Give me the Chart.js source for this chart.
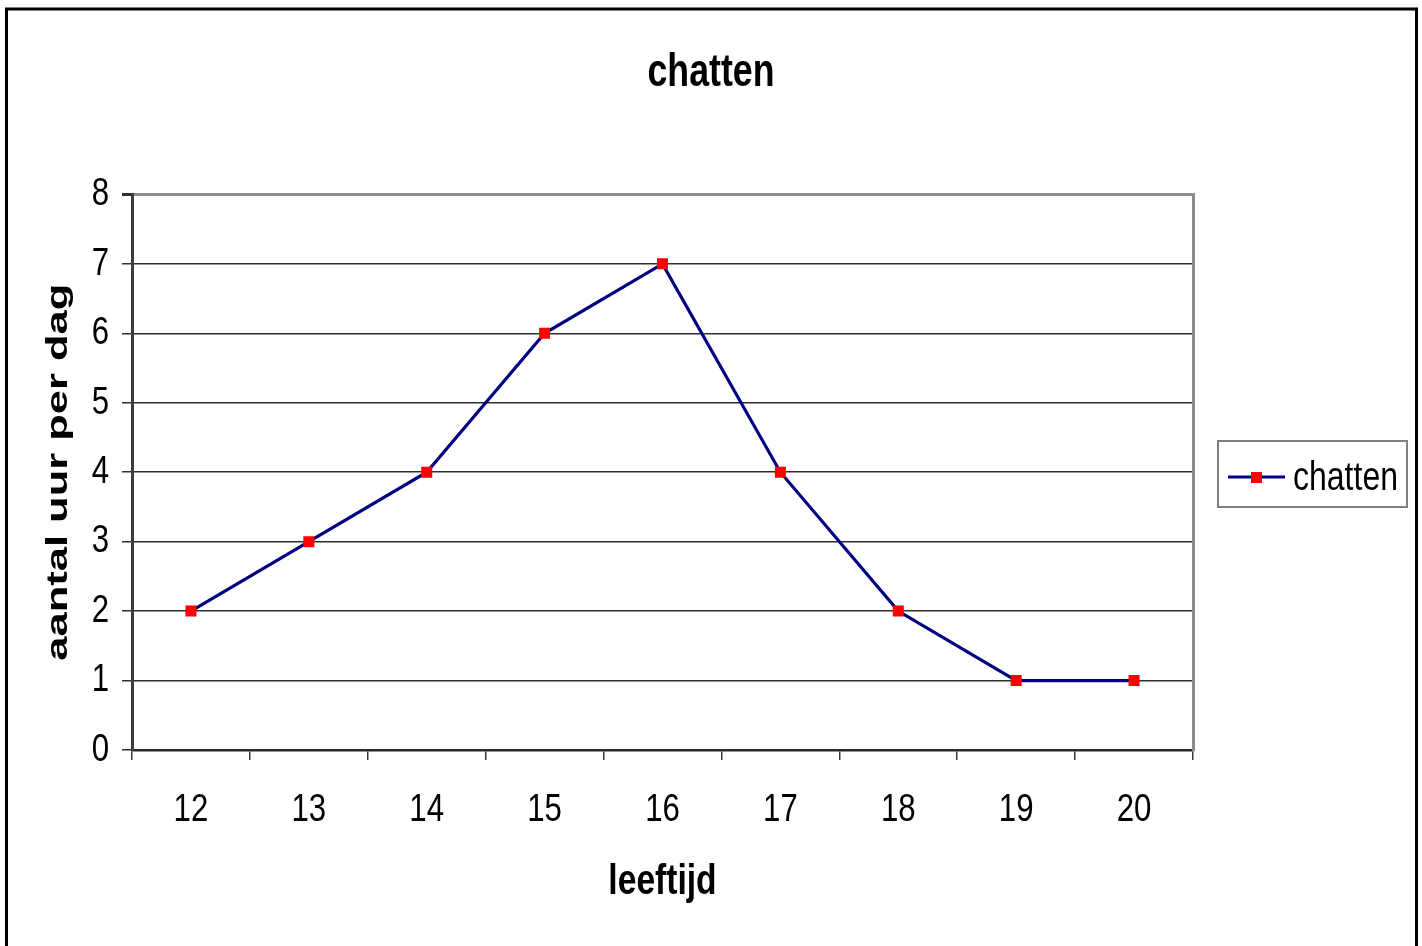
<!DOCTYPE html>
<html>
<head>
<meta charset="utf-8">
<script src="https://cdn.jsdelivr.net/npm/chart.js@4/dist/chart.umd.min.js"></script>
<style>
  html, body { margin: 0; padding: 0; background: #fff; }
  #wrap { width: 1422px; height: 946px; }
</style>
</head>
<body>
<div id="wrap"><canvas id="chart" width="1422" height="946"></canvas></div>
<script>
// ─── DATA ────────────────────────────────────────────────────────────────────
const leeftijden = ['12', '13', '14', '15', '16', '17', '18', '19', '20'];
const urenPerDag = [2, 3, 4, 6, 7, 4, 2, 1, 1];
const yTicks = [0, 1, 2, 3, 4, 5, 6, 7, 8];
const seriesName = 'chatten';

// ─── NARROW / WIDE TEXT ──────────────────────────────────────────────────────
// No Arial Narrow here, so fake families get drawn with Liberation Sans squeezed
// (or stretched) horizontally, like the old Excel rendering.
const SIM_FONTS = { SimNarrow: 0.8, SimTitle: 0.76, SimWide: 1.45 };
const realFill = CanvasRenderingContext2D.prototype.fillText;
const realMeasure = CanvasRenderingContext2D.prototype.measureText;

function simFont(ctx) {
  const f = ctx.font;
  for (const k in SIM_FONTS) if (f.includes(k)) return [k, SIM_FONTS[k], f];
  return null;
}

CanvasRenderingContext2D.prototype.fillText = function(text, x, y, maxWidth) {
  const sim = simFont(this);
  if (!sim) return realFill.apply(this, arguments);
  this.save();
  this.font = sim[2].replace(sim[0], '"Liberation Sans"');
  this.translate(x, y);
  this.scale(sim[1], 1);
  if (maxWidth !== undefined) realFill.call(this, text, 0, 0, maxWidth / sim[1]);
  else realFill.call(this, text, 0, 0);
  this.restore();
};

CanvasRenderingContext2D.prototype.measureText = function(text) {
  const sim = simFont(this);
  if (!sim) return realMeasure.call(this, text);
  this.save();
  this.font = sim[2].replace(sim[0], '"Liberation Sans"');
  const m = realMeasure.call(this, text);
  this.restore();
  return {
    width: m.width * sim[1],
    actualBoundingBoxAscent: m.actualBoundingBoxAscent,
    actualBoundingBoxDescent: m.actualBoundingBoxDescent,
    actualBoundingBoxLeft: m.actualBoundingBoxLeft * sim[1],
    actualBoundingBoxRight: m.actualBoundingBoxRight * sim[1]
  };
};

// outer frame (Excel chart border)
const framePlugin = {
  id: 'frame',
  afterDraw(chart) {
    const ctx = chart.ctx;
    ctx.save();
    ctx.strokeStyle = '#000';
    ctx.lineWidth = 3;
    ctx.strokeRect(6.5, 9, 1410, 1000);
    ctx.restore();
  }
};

// legend box on the right, line + marker like Excel
const legendBoxPlugin = {
  id: 'legendBox',
  afterDraw(chart) {
    const ctx = chart.ctx;
    const ds = chart.data.datasets[0];
    ctx.save();
    ctx.strokeStyle = '#808080';
    ctx.lineWidth = 2;
    ctx.strokeRect(1218, 441, 189, 66);
    ctx.strokeStyle = ds.borderColor;
    ctx.lineWidth = 3;
    ctx.beginPath();
    ctx.moveTo(1228, 477);
    ctx.lineTo(1285, 477);
    ctx.stroke();
    ctx.fillStyle = ds.pointBackgroundColor;
    ctx.fillRect(1251, 472, 11, 11);
    ctx.fillStyle = '#000';
    ctx.font = '40px SimNarrow';
    ctx.textBaseline = 'middle';
    ctx.textAlign = 'left';
    ctx.fillText(ds.label, 1293, 479);
    ctx.restore();
  }
};

new Chart(document.getElementById('chart'), {
  type: 'line',
  data: {
    labels: leeftijden,
    datasets: [{
      label: seriesName,
      data: urenPerDag,
      borderColor: '#000080',
      borderWidth: 3.2,
      tension: 0,
      pointStyle: 'rect',
      pointRadius: 7.8,
      pointBackgroundColor: '#ff0000',
      pointBorderColor: '#ff0000',
      pointBorderWidth: 0,
      yAxisID: 'y'
    }]
  },
  options: {
    responsive: false,
    animation: false,
    devicePixelRatio: 1,
    layout: { padding: 0 },
    plugins: {
      legend: { display: false },
      tooltip: { enabled: false },
      title: {
        display: true,
        text: 'chatten',
        color: '#000',
        font: { family: 'SimTitle', size: 47, weight: 'bold' },
        padding: { top: 45, bottom: 93 }
      }
    },
    scales: {
      x: {
        type: 'category',
        offset: true,
        grid: {
          offset: true,
          drawOnChartArea: false,
          drawTicks: true,
          tickLength: 10,
          tickColor: '#3a3a3a',
          lineWidth: 1.5
        },
        border: { display: true, color: '#2a2a2a', width: 2.5 },
        ticks: {
          color: '#000',
          font: { family: 'SimNarrow', size: 39 },
          padding: 27,
          maxRotation: 0,
          autoSkip: false
        },
        title: {
          display: true,
          text: 'leeftijd',
          color: '#000',
          font: { family: 'SimNarrow', size: 42, weight: 'bold' },
          padding: { top: 0, bottom: 38 }
        },
        afterFit(s) { s.height = 196; }
      },
      y: {
        type: 'linear',
        position: 'left',
        min: 0,
        max: 8,
        afterBuildTicks(s) { s.ticks = yTicks.map(v => ({ value: v })); },
        grid: {
          color: c => (c.tick && c.tick.value === 8) ? '#8c8c8c' : '#2e2e2e',
          lineWidth: c => (c.tick && c.tick.value === 8) ? 3 : 1.5,
          tickColor: '#2e2e2e',
          tickLength: 10
        },
        border: { display: true, color: '#3c3c3c', width: 3 },
        ticks: {
          color: '#000',
          font: { family: 'SimNarrow', size: 39 },
          padding: 13
        },
        title: {
          display: true,
          text: 'aantal uur per dag',
          color: '#000',
          font: { family: 'SimWide', size: 30, weight: 'bold' },
          padding: { top: 41, bottom: 0 }
        },
        afterFit(s) { s.width = 132; }
      },
      // empty right axis: keeps room for the legend and draws the grey plot edge
      yRight: {
        type: 'linear',
        position: 'right',
        min: 0,
        max: 8,
        grid: { drawOnChartArea: false, drawTicks: false },
        border: { display: true, color: '#8c8c8c', width: 3 },
        ticks: { display: false },
        afterFit(s) { s.width = 229; }
      }
    }
  },
  plugins: [framePlugin, legendBoxPlugin]
});
</script>
</body>
</html>
